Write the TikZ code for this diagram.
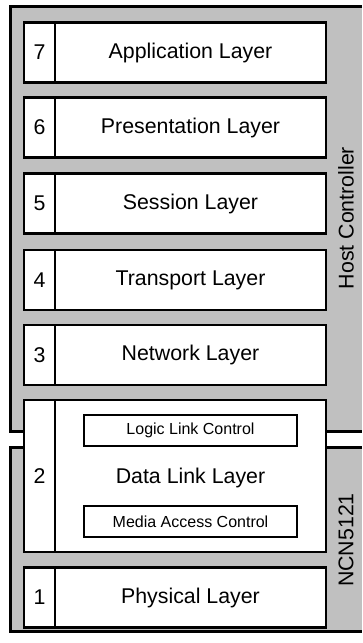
\documentclass[tikz,border=0pt]{standalone}
\usepackage{fontspec}
\setmainfont{Liberation Sans}
\definecolor{bggray}{HTML}{C0C0C0}
\tikzset{
  outerbox/.style={fill=bggray, draw=black, line width=2.25pt},
  numbox/.style={draw=black, fill=white, line width=2pt, minimum width=31*0.75pt, inner sep=0pt, font=\fontsize{16}{19}\selectfont},
  laybox/.style={draw=black, fill=white, line width=2pt, minimum width=271*0.75pt, inner sep=0pt, font=\fontsize{16}{19}\selectfont},
  subbox/.style={draw=black, fill=white, line width=1.2pt, minimum width=213*0.75pt, minimum height=31*0.75pt, inner sep=0pt, font=\fontsize{12}{14}\selectfont},
  sidelabel/.style={rotate=90, font=\fontsize{16}{19}\selectfont}
}
\begin{document}
\begin{tikzpicture}[x=0.75pt, y=-0.75pt]
\useasboundingbox (0,0) rectangle (362,643);
% outer regions
\coordinate (h1) at (362,6.5);
\coordinate (h2) at (10.5,6.5);
\coordinate (h3) at (10.5,431.5);
\coordinate (h4) at (362,431.5);
\path[outerbox] (h1) -- (h2) -- (h3) -- (h4);
\coordinate (c1) at (362,447.5);
\coordinate (c2) at (10.5,447.5);
\coordinate (c3) at (10.5,631.5);
\coordinate (c4) at (362,631.5);
\path[outerbox] (c1) -- (c2) -- (c3) -- (c4);
\node[sidelabel] (hc) at (346,218) {Host Controller};
\node[sidelabel] (ncn) at (346,540) {NCN5121};
% layers
\foreach \n/\yy/\t in {7/52.5/Application Layer, 6/127.5/Presentation Layer, 5/203.5/Session Layer, 4/280/Transport Layer, 3/355/Network Layer, 1/597.5/Physical Layer}{
  \node[numbox, minimum height=60*0.75pt] (n\n) at (39.5,\yy) {\n};
  \node[laybox, minimum height=60*0.75pt] (l\n) at (190.5,\yy) {\t};
}
\node[numbox, minimum height=152*0.75pt] (n2) at (39.5,476) {2};
\node[laybox, minimum height=152*0.75pt] (l2) at (190.5,476) {};
\node[font=\fontsize{16}{19}\selectfont] (dll) at (190.5,478) {Data Link Layer};
\node[subbox] (llc) at (190.5,430.5) {Logic Link Control};
\node[subbox] (mac) at (190.5,521.5) {Media Access Control};
\end{tikzpicture}
\end{document}
